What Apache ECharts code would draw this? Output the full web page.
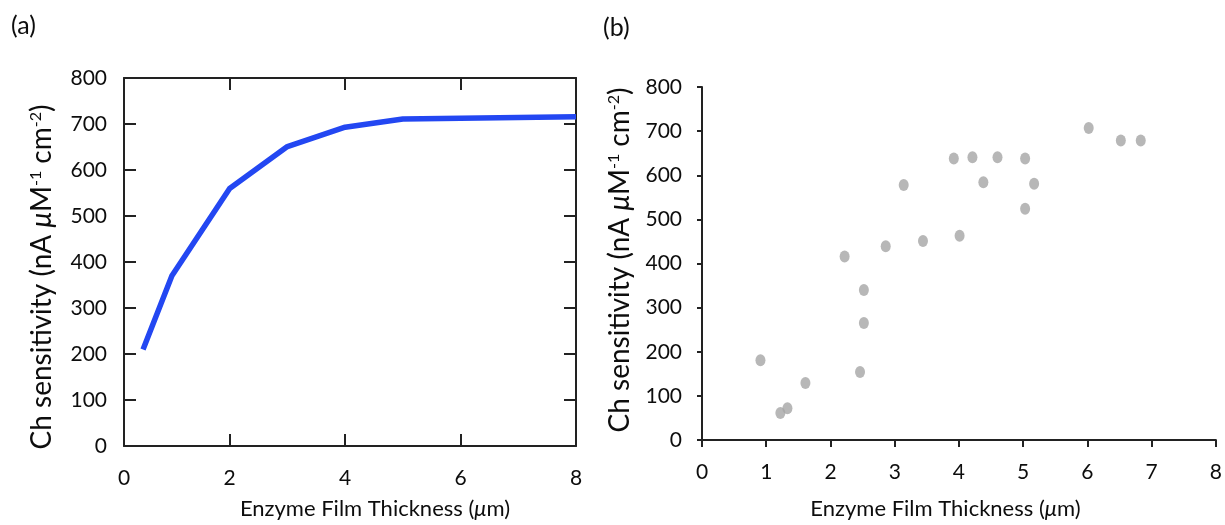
<!DOCTYPE html>
<html>
<head>
<meta charset="utf-8">
<script src="https://cdn.jsdelivr.net/npm/echarts@6/dist/echarts.min.js"></script>
<style>
  html, body { margin: 0; padding: 0; background: #ffffff; }
  #chart { width: 1225px; height: 525px; }
</style>
</head>
<body>
<div id="chart"></div>
<script>
// (a) modelled sensitivity curve
const curveThickness = [0.5, 1, 2, 3, 4, 5, 8];
const curveSensitivity = [210, 370, 560, 651, 693, 711, 716];

// (b) measured electrodes
const measThickness = [0.91, 1.22, 1.33, 1.61, 2.22, 2.46, 2.52, 2.52, 2.86, 3.14, 3.44,
  3.92, 4.01, 4.21, 4.38, 4.60, 5.03, 5.03, 5.17, 6.02, 6.52, 6.83];
const measSensitivity = [181, 61, 72, 129, 416, 154, 340, 265, 439, 578, 451,
  638, 463, 641, 584, 641, 638, 524, 581, 707, 679, 679];

// tick labels
const yTickValues = [0, 100, 200, 300, 400, 500, 600, 700, 800];
const xTickLabelsA = ['0', '2', '4', '6', '8'];
const xTickValuesB = [0, 1, 2, 3, 4, 5, 6, 7, 8];

// panel (a) horizontal axis starts slightly right of zero
const xMinA = 0.17;
const xTickPosA = [xMinA, 2, 4, 6, 8];

const FONT = 'Lato';
const INK = '#0d0d0d';
const AXIS = '#222222';

const labelStyle = { fontFamily: FONT, fontSize: 21, color: INK };
const xNameStyle = {
  fontFamily: FONT, fontSize: 22, color: INK,
  rich: {
    i: { fontFamily: FONT, fontSize: 22, color: INK, fontStyle: 'italic' }
  }
};
const yNameStyle = {
  fontFamily: FONT, fontSize: 28, color: INK,
  rich: {
    i: { fontFamily: FONT, fontSize: 28, color: INK, fontStyle: 'italic' },
    s: { fontFamily: FONT, fontSize: 16, color: INK, verticalAlign: 'top' }
  }
};
const xName = 'Enzyme Film Thickness ({i|μ}m)';
const yName = 'Ch sensitivity (nA {i|μ}M{s|-1} cm{s|-2})';

const axisLineA = { show: true, onZero: false, lineStyle: { color: AXIS, width: 2 } };

const chart = echarts.init(document.getElementById('chart'), null, { renderer: 'canvas' });

chart.setOption({
  animation: false,
  backgroundColor: '#ffffff',
  title: [
    { text: '(a)', left: 6, top: 8, textStyle: { fontFamily: FONT, fontSize: 25, fontWeight: 'normal', color: INK } },
    { text: '(b)', left: 598, top: 10, textStyle: { fontFamily: FONT, fontSize: 25, fontWeight: 'normal', color: INK } }
  ],
  grid: [
    { left: 124, top: 78, width: 452, height: 372, containLabel: false },
    { left: 702, top: 87, width: 514, height: 355, containLabel: false }
  ],
  xAxis: [
    {
      gridIndex: 0, type: 'value', min: xMinA, max: 8, position: 'bottom',
      axisLine: axisLineA,
      axisTick: { show: true, inside: true, length: 12, customValues: [2, 4, 6], lineStyle: { color: AXIS, width: 2 } },
      axisLabel: Object.assign({
        margin: 22,
        customValues: xTickPosA,
        formatter: v => xTickLabelsA[xTickPosA.indexOf(v)]
      }, labelStyle),
      splitLine: { show: false },
      name: xName, nameLocation: 'middle', nameGap: 52,
      nameTextStyle: Object.assign({ padding: [0, 0, 0, 50] }, xNameStyle)
    },
    {
      gridIndex: 0, type: 'value', min: xMinA, max: 8, position: 'top',
      axisLine: axisLineA,
      axisTick: { show: true, inside: true, length: 12, customValues: [2, 4, 6], lineStyle: { color: AXIS, width: 2 } },
      axisLabel: { show: false },
      splitLine: { show: false }
    },
    {
      gridIndex: 1, type: 'value', min: 0, max: 8, interval: 1,
      axisLine: { show: true, onZero: false, lineStyle: { color: AXIS, width: 2 } },
      axisTick: { show: true, length: 7, lineStyle: { color: AXIS, width: 2 } },
      axisLabel: Object.assign({ margin: 22, formatter: v => String(xTickValuesB[xTickValuesB.indexOf(v)]) }, labelStyle),
      splitLine: { show: false },
      name: xName, nameLocation: 'middle', nameGap: 58,
      nameTextStyle: Object.assign({ padding: [0, 27, 0, 0] }, xNameStyle)
    }
  ],
  yAxis: [
    {
      gridIndex: 0, type: 'value', min: 0, max: 800, interval: 100,
      axisLine: axisLineA,
      axisTick: { show: true, inside: true, length: 12, lineStyle: { color: AXIS, width: 2 } },
      axisLabel: Object.assign({ margin: 17, formatter: v => String(yTickValues[yTickValues.indexOf(v)]) }, labelStyle),
      splitLine: { show: false },
      name: yName, nameLocation: 'middle', nameGap: 68, nameRotate: 90,
      nameTextStyle: Object.assign({ padding: [0, 30, 0, 0] }, yNameStyle)
    },
    {
      gridIndex: 0, type: 'value', min: 0, max: 800, interval: 100, position: 'right',
      axisLine: axisLineA,
      axisTick: { show: true, inside: true, length: 12, lineStyle: { color: AXIS, width: 2 } },
      axisLabel: { show: false },
      splitLine: { show: false }
    },
    {
      gridIndex: 1, type: 'value', min: 0, max: 800, interval: 100,
      axisLine: { show: true, onZero: false, lineStyle: { color: AXIS, width: 2 } },
      axisTick: { show: true, length: 5, lineStyle: { color: AXIS, width: 2 } },
      axisLabel: Object.assign({ margin: 20, formatter: v => String(yTickValues[yTickValues.indexOf(v)]) }, labelStyle),
      splitLine: { show: false },
      name: yName, nameLocation: 'middle', nameGap: 68, nameRotate: 90,
      nameTextStyle: Object.assign({ padding: [0, 0, 0, 7] }, yNameStyle)
    }
  ],
  series: [
    {
      type: 'line', xAxisIndex: 0, yAxisIndex: 0,
      data: curveThickness.map((x, i) => [x, curveSensitivity[i]]),
      showSymbol: false, symbol: 'none',
      lineStyle: { color: '#2347f2', width: 5.5, join: 'round', cap: 'butt' },
      clip: true
    },
    {
      type: 'scatter', xAxisIndex: 2, yAxisIndex: 2,
      data: measThickness.map((x, i) => [x, measSensitivity[i]]),
      symbol: 'circle', symbolSize: [10, 12],
      itemStyle: { color: '#a5a5a5' }
    }
  ]
});
</script>
</body>
</html>
